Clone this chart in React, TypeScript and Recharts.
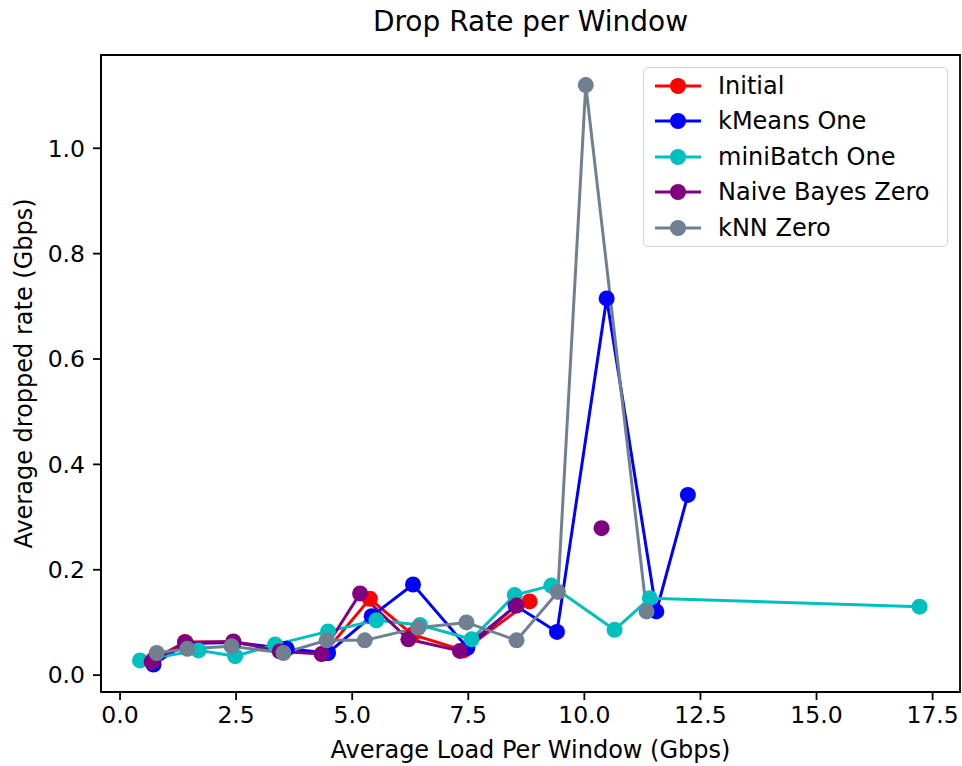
import { LineChart, Line, XAxis, YAxis, ReferenceArea, Label } from "recharts";

const FONT = "'DejaVu Sans', sans-serif";

// axis setup
const xTicks = [0, 2.5, 5, 7.5, 10, 12.5, 15, 17.5];
const yTicks = [0, 0.2, 0.4, 0.6, 0.8, 1.0];
const xDomain = [-0.41, 18.09];
const yDomain = [-0.032, 1.177];

// values (load, drop rate) per model
const initialLoad = [0.72, 1.4, 2.44, 3.5, 4.4, 5.38, 6.3, 7.4, 8.82];
const initialDrop = [0.03, 0.063, 0.063, 0.05, 0.042, 0.145, 0.077, 0.047, 0.14];

const kMeansLoad = [0.72, 1.42, 2.44, 3.59, 4.48, 5.42, 6.31, 7.48, 8.52, 9.41, 10.48, 11.55, 12.23];
const kMeansDrop = [0.02, 0.06, 0.062, 0.05, 0.042, 0.112, 0.172, 0.052, 0.132, 0.082, 0.715, 0.121, 0.342];

const miniBatchLoad = [0.43, 1.69, 2.48, 3.34, 4.48, 5.52, 6.46, 7.57, 8.5, 9.29, 10.65, 11.41, 17.22];
const miniBatchDrop = [0.028, 0.047, 0.036, 0.058, 0.083, 0.104, 0.095, 0.068, 0.152, 0.17, 0.086, 0.146, 0.13];

const bayesLoad = [0.68, 1.4, 2.44, 3.44, 4.34, 5.17, 6.21, 7.32, 8.54, 9.4, 10.37, 11.4];
const bayesDrop = [0.025, 0.062, 0.064, 0.045, 0.04, 0.155, 0.068, 0.046, 0.132, null, 0.279, null];

const knnLoad = [0.79, 1.45, 2.4, 3.52, 4.45, 5.27, 6.42, 7.46, 8.54, 9.43, 10.03, 11.34];
const knnDrop = [0.042, 0.05, 0.055, 0.042, 0.066, 0.066, 0.09, 0.1, 0.066, 0.158, 1.12, 0.121];

const zip = (xs: number[], ys: (number | null)[]) => xs.map((x, i) => ({ x, y: ys[i] }));

const series = [
  { name: "Initial", color: "#ff0000", data: zip(initialLoad, initialDrop) },
  { name: "kMeans One", color: "#0000ff", data: zip(kMeansLoad, kMeansDrop) },
  { name: "miniBatch One", color: "#00bfbf", data: zip(miniBatchLoad, miniBatchDrop) },
  { name: "Naive Bayes Zero", color: "#800080", data: zip(bayesLoad, bayesDrop) },
  { name: "kNN Zero", color: "#708090", data: zip(knnLoad, knnDrop) },
];

const YLabel = ({ viewBox }: any) => {
  const cx = viewBox.x + 24;
  const cy = viewBox.y + viewBox.height / 2;
  return (
    <text
      x={cx}
      y={cy}
      transform={`rotate(-90, ${cx}, ${cy})`}
      textAnchor="middle"
      dominantBaseline="central"
      fill="#000"
      fontSize={24}
      fontFamily={FONT}
    >
      Average dropped rate (Gbps)
    </text>
  );
};

function LegendBox() {
  return (
    <div
      style={{
        position: "absolute",
        left: 643,
        top: 67,
        width: 305,
        height: 180,
        boxSizing: "border-box",
        border: "1.5px solid #d4d4d4",
        borderRadius: 5,
        background: "rgba(255,255,255,0.8)",
        fontSize: 24,
      }}
    >
      {series.map((s) => (
        <div key={s.name} style={{ display: "flex", alignItems: "center", height: 35.5 }}>
          <svg width={46} height={20} style={{ marginLeft: 11, marginRight: 17 }}>
            <line x1={0} y1={10} x2={46} y2={10} stroke={s.color} strokeWidth={3} />
            <circle cx={23} cy={10} r={8} fill={s.color} />
          </svg>
          <span>{s.name}</span>
        </div>
      ))}
    </div>
  );
}

export default function App() {
  return (
    <div
      style={{
        position: "absolute",
        left: 0,
        top: 0,
        width: 962,
        height: 766,
        background: "#fff",
        fontFamily: FONT,
      }}
    >
      <div
        style={{
          position: "absolute",
          left: 101,
          width: 859,
          top: 4,
          textAlign: "center",
          fontSize: 28,
          lineHeight: "36px",
        }}
      >
        Drop Rate per Window
      </div>
      <LineChart
        width={962}
        height={766}
        margin={{ top: 55, right: 2, left: 0, bottom: 0 }}
        style={{ fontFamily: FONT }}
      >
        <XAxis
          dataKey="x"
          type="number"
          domain={xDomain}
          ticks={xTicks}
          interval={0}
          allowDataOverflow
          tickFormatter={(v: number) => v.toFixed(1)}
          height={74}
          tickSize={8}
          tickMargin={6}
          axisLine={{ stroke: "#000", strokeWidth: 1.8 }}
          tickLine={{ stroke: "#000", strokeWidth: 1.8 }}
          tick={{ fill: "#000", fontSize: 23.5 }}
        >
          <Label
            value="Average Load Per Window (Gbps)"
            position="insideBottom"
            offset={8}
            fill="#000"
            fontSize={24}
          />
        </XAxis>
        <YAxis
          type="number"
          domain={yDomain}
          ticks={yTicks}
          interval={0}
          allowDataOverflow
          tickFormatter={(v: number) => v.toFixed(1)}
          width={101}
          tickSize={8}
          tickMargin={8}
          axisLine={{ stroke: "#000", strokeWidth: 1.8 }}
          tickLine={{ stroke: "#000", strokeWidth: 1.8 }}
          tick={{ fill: "#000", fontSize: 23.5 }}
          label={<YLabel />}
        />
        <ReferenceArea
          x1={xDomain[0]}
          x2={xDomain[1]}
          y1={yDomain[0]}
          y2={yDomain[1]}
          fill="none"
          stroke="#000"
          strokeWidth={1.8}
          ifOverflow="visible"
        />
        {series.map((s) => (
          <Line
            key={s.name}
            name={s.name}
            data={s.data}
            dataKey="y"
            type="linear"
            stroke={s.color}
            strokeWidth={3}
            dot={{ r: 8, fill: s.color, stroke: s.color, strokeWidth: 0 }}
            activeDot={false}
            connectNulls={false}
            isAnimationActive={false}
          />
        ))}
      </LineChart>
      <LegendBox />
    </div>
  );
}
